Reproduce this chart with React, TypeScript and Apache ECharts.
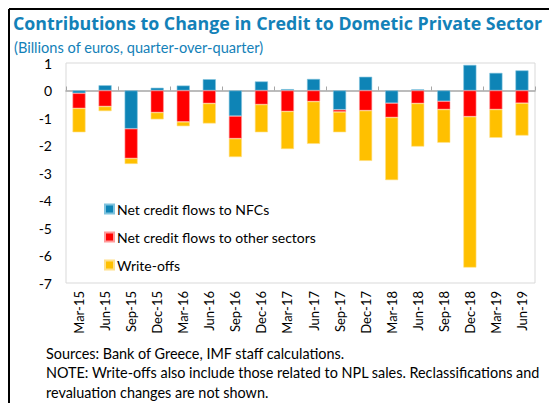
import React, { useEffect, useRef } from "react";
import * as echarts from "echarts";

const categories = ["Mar-15","Jun-15","Sep-15","Dec-15","Mar-16","Jun-16","Sep-16","Dec-16","Mar-17","Jun-17","Sep-17","Dec-17","Mar-18","Jun-18","Sep-18","Dec-18","Mar-19","Jun-19"];
const nfcFlows = [-0.1, 0.19, -1.39, 0.1, 0.18, 0.41, -0.93, 0.33, 0.05, 0.42, -0.7, 0.5, -0.46, 0.04, -0.39, 0.93, 0.64, 0.73];
const otherSectorFlows = [-0.55, -0.58, -1.08, -0.8, -1.14, -0.47, -0.82, -0.51, -0.76, -0.4, -0.08, -0.73, -0.52, -0.47, -0.3, -0.95, -0.69, -0.46];
const writeOffs = [-0.87, -0.17, -0.2, -0.25, -0.16, -0.73, -0.67, -1.01, -1.37, -1.54, -0.74, -1.83, -2.28, -1.57, -1.21, -5.49, -1.03, -1.18];
const seriesNames = ["Net credit flows to NFCs", "Net credit flows to other sectors", "Write-offs"];
const yTicks = { min: -7, max: 1, interval: 1 };

const titleText = "Contributions to Change in Credit to Dometic Private Sector";
const subtitleText = "(Billions of euros, quarter-over-quarter)";
const footerLines = [
  "Sources: Bank of Greece, IMF staff calculations.",
  "NOTE: Write-offs also include those related to NPL sales. Reclassifications and",
  "revaluation changes are not shown.",
];

const FONT = "Lato, 'Noto Sans', sans-serif";
const TITLE_FONT = "'Open Sans', 'Noto Sans', sans-serif";
const BLUE = "#0e84b6";
const TITLE_BLUE = "#1381b8";

export default function App() {
  const ref = useRef<HTMLDivElement>(null);
  useEffect(() => {
    if (!ref.current) return;
    const chart = echarts.init(ref.current, undefined, { renderer: "svg" });
    const colors = [BLUE, "#ff0000", "#ffc000"];
    const edges = ["#7fc3de", "#ff9a9a", "#ffe08a"];
    const values = [nfcFlows, otherSectorFlows, writeOffs];
    chart.setOption({
      animation: false,
      textStyle: { fontFamily: FONT },
      grid: { left: 66, top: 63, width: 469, height: 220, show: true, borderColor: "#d9d9d9", borderWidth: 1, backgroundColor: "transparent" },
      legend: {
        orient: "vertical",
        left: 99,
        top: 197,
        itemWidth: 9,
        itemHeight: 9,
        itemGap: 14,
        icon: "rect",
        textStyle: { fontFamily: FONT, fontSize: 14, color: "#000", padding: [0, 0, 0, -2] },
        data: seriesNames,
      },
      xAxis: [
        {
          type: "category",
          data: categories,
          position: "bottom",
          axisLine: { show: false, onZero: false },
          axisTick: { show: false },
          axisLabel: { rotate: 90, fontSize: 13, color: "#000", margin: 8, fontFamily: FONT },
        },
        {
          type: "category",
          data: categories,
          position: "top",
          axisLine: { show: true, onZero: true, lineStyle: { color: "#a6a6a6", width: 1.5 } },
          axisTick: { show: true, length: 4, lineStyle: { color: "#a6a6a6", width: 1 } },
          axisLabel: { show: false },
        },
      ],
      yAxis: {
        type: "value",
        min: yTicks.min,
        max: yTicks.max,
        interval: yTicks.interval,
        axisLine: { show: false },
        axisTick: { show: false },
        splitLine: { show: false },
        axisLabel: { fontSize: 14, color: "#000", margin: 14, fontFamily: FONT },
      },
      series: seriesNames.map((name, i) => ({
        name,
        type: "bar",
        stack: "total",
        xAxisIndex: 0,
        barWidth: "50%",
        data: values[i],
        itemStyle: { color: colors[i], borderColor: edges[i], borderWidth: 0.6 },
      })),
      graphic: [
        { type: "line", shape: { x1: 9, y1: 9, x2: 549, y2: 9 }, style: { stroke: "#000", lineWidth: 2 } },
        { type: "line", shape: { x1: 9, y1: 9, x2: 9, y2: 403 }, style: { stroke: "#000", lineWidth: 2 } },
        { type: "text", left: 13, top: 14, style: { text: titleText, fill: TITLE_BLUE, font: `bold 17.8px ${TITLE_FONT}` } },
        { type: "text", left: 14, top: 40, style: { text: subtitleText, fill: TITLE_BLUE, font: `14.6px ${FONT}` } },
        ...footerLines.map((t, i) => ({
          type: "text",
          left: 46,
          top: 346 + i * 19.5,
          style: { text: t, fill: "#000", font: `14.4px ${FONT}` },
        })),
      ],
    });
    return () => chart.dispose();
  }, []);
  return <div ref={ref} style={{ position: "fixed", left: 0, top: 0, width: 549, height: 403, background: "#fff" }} />;
}
